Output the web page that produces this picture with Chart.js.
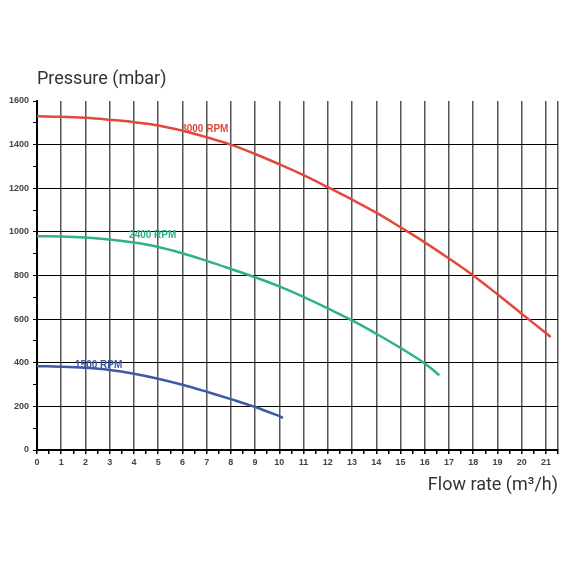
<!DOCTYPE html>
<html lang="en">
<head>
    <meta charset="UTF-8">
    <title>Pump curves</title>
    <style>
        body {
            margin: 0;
            background-color: #fff;
        }
        #chart {
            display: block;
        }
    </style>
    <script src="https://cdn.jsdelivr.net/npm/chart.js"></script>
</head>
<body>
    <canvas id="chart" width="570" height="570"></canvas>

    <script>
        // data
        const flow3000 = [0, 1, 2, 3, 4, 5, 6, 7, 8, 9, 10, 11, 12, 13, 14, 15, 16, 17, 18, 19, 20, 21, 21.2];
        const pressure3000 = [1530, 1528, 1523, 1514, 1503, 1488, 1464, 1434, 1400, 1357, 1310, 1260, 1205, 1148, 1088, 1021, 952, 878, 800, 714, 625, 536, 518];

        const flow2400 = [0, 1, 2, 3, 4, 5, 6, 7, 8, 9, 10, 11, 12, 13, 14, 15, 16, 16.6];
        const pressure2400 = [980, 979, 974, 965, 951, 931, 902, 867, 830, 792, 750, 702, 649, 594, 533, 468, 397, 343];

        const flow1500 = [0, 1, 2, 3, 4, 5, 6, 7, 8, 9, 10, 10.15];
        const pressure1500 = [384, 382, 377, 367, 350, 327, 299, 267, 233, 197, 155, 147];

        const seriesNames = ['3000 RPM', '2400 RPM', '1500 RPM'];
        const yTitle = 'Pressure (mbar)';
        const xTitle = 'Flow rate (m³/h)';

        function points(xs, ys) {
            return xs.map((v, i) => ({ x: v, y: ys[i] }));
        }

        // text next to each curve, in data units
        const curveLabels = [
            { text: seriesNames[0], x: 5.95, y: 1472, color: '#e4483b' },
            { text: seriesNames[1], x: 3.8, y: 985, color: '#2fb380' },
            { text: seriesNames[2], x: 1.57, y: 390, color: '#3d5aa8' }
        ];

        const labelsPlugin = {
            id: 'labelsPlugin',
            afterDraw(chart) {
                const { ctx, chartArea, scales } = chart;
                ctx.save();
                ctx.fillStyle = '#333';
                ctx.font = '18px Roboto';
                ctx.textBaseline = 'alphabetic';
                ctx.textAlign = 'left';
                ctx.fillText(yTitle, chartArea.left, chartArea.top - 17);
                ctx.textAlign = 'right';
                ctx.fillText(xTitle, chartArea.right, chartArea.bottom + 40);

                ctx.font = 'bold 10px "Liberation Sans"';
                ctx.textAlign = 'left';
                ctx.textBaseline = 'middle';
                curveLabels.forEach(l => {
                    ctx.fillStyle = l.color;
                    ctx.fillText(l.text, scales.x.getPixelForValue(l.x), scales.y.getPixelForValue(l.y));
                });
                ctx.restore();
            }
        };

        const ctx = document.getElementById('chart').getContext('2d');
        new Chart(ctx, {
            type: 'scatter',
            data: {
                datasets: [
                    { label: seriesNames[0], data: points(flow3000, pressure3000), borderColor: '#e4483b' },
                    { label: seriesNames[1], data: points(flow2400, pressure2400), borderColor: '#2fb380' },
                    { label: seriesNames[2], data: points(flow1500, pressure1500), borderColor: '#3d5aa8' }
                ].map(d => Object.assign(d, {
                    showLine: true,
                    borderWidth: 2.5,
                    pointRadius: 0,
                    tension: 0.4,
                    fill: false
                }))
            },
            options: {
                responsive: false,
                animation: false,
                layout: { padding: { top: 101, right: 12, bottom: 0, left: 0 } },
                plugins: {
                    legend: { display: false },
                    tooltip: { enabled: false }
                },
                scales: {
                    x: {
                        type: 'linear',
                        min: 0,
                        max: 21.5,
                        afterFit(scale) { scale.height = 120; },
                        border: { color: '#000', width: 2 },
                        grid: {
                            color: c => (c.tick && (Number.isInteger(c.tick.value) || c.tick.value === 21.5)) ? '#555' : 'rgba(0,0,0,0)',
                            lineWidth: 1.5,
                            tickColor: '#000',
                            tickLength: 4
                        },
                        ticks: {
                            stepSize: 0.5,
                            autoSkip: false,
                            maxRotation: 0,
                            padding: 3,
                            color: '#444',
                            font: { family: 'Liberation Sans', size: 9, weight: 'bold' },
                            callback: v => Number.isInteger(v) ? String(v) : ''
                        }
                    },
                    y: {
                        min: 0,
                        max: 1600,
                        afterFit(scale) { scale.width = 37; },
                        border: { color: '#000', width: 2 },
                        grid: {
                            color: c => (c.tick && c.tick.value % 200 === 0 && c.tick.value < 1600) ? '#000' : 'rgba(0,0,0,0)',
                            lineWidth: 1,
                            tickColor: '#000',
                            tickLength: 4
                        },
                        ticks: {
                            stepSize: 100,
                            autoSkip: false,
                            padding: 4,
                            color: '#444',
                            font: { family: 'Liberation Sans', size: 9, weight: 'bold' },
                            callback: v => v % 200 === 0 ? String(v) : ''
                        }
                    }
                }
            },
            plugins: [labelsPlugin]
        });
    </script>
</body>
</html>
